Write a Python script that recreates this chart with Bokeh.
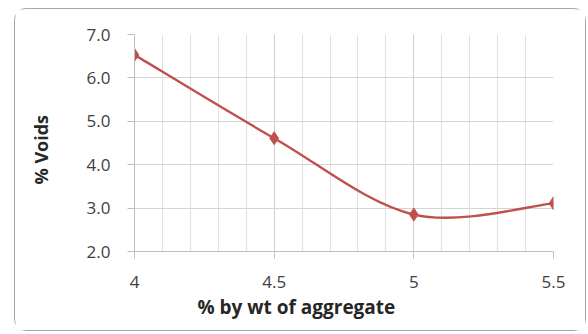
import numpy as np
from bokeh.plotting import figure
from bokeh.models import Range1d, SingleIntervalTicker, Title, NumeralTickFormatter
from bokeh.embed import file_html
from bokeh.resources import INLINE

# data
binder = [4.0, 4.5, 5.0, 5.5]
voids = [6.53, 4.61, 2.85, 3.11]
x_label = "% by wt of aggregate"
y_label = "% Voids"

RED = "#C0504D"

p = figure(width=572, height=323, output_backend="svg", toolbar_location=None,
           x_range=Range1d(4, 5.5), y_range=Range1d(2, 7),
           min_border_left=119, min_border_right=34, min_border_top=25, min_border_bottom=81,
           margin=(8, 0, 0, 14))
p.styles = {"border": "1px solid #a6a6a6", "border-radius": "12px"}
p.outline_line_color = None
p.background_fill_color = "white"
p.border_fill_color = "white"

# axes
p.xaxis.ticker = SingleIntervalTicker(interval=0.5, num_minor_ticks=5)
p.yaxis.ticker = SingleIntervalTicker(interval=1)
p.yaxis.formatter = NumeralTickFormatter(format="0.0")
for ax in (p.xaxis[0], p.yaxis[0]):
    ax.axis_line_color = "#bfbfbf"
    ax.major_tick_line_color = "#bfbfbf"
    ax.major_tick_out = 7
    ax.major_tick_in = 0
    ax.minor_tick_line_color = None
    ax.major_label_text_font = "Open Sans"
    ax.major_label_text_font_size = "17px"
    ax.major_label_text_color = "#404040"
p.xaxis.major_label_standoff = 17
p.yaxis.major_label_standoff = 17
# blank spacer label to push the y title outward
p.yaxis.axis_label = " "
p.yaxis.axis_label_text_font_size = "2px"
p.yaxis.axis_label_standoff = 14

p.xgrid.grid_line_color = "#cfcfcf"
p.xgrid.minor_grid_line_color = "#e0e0e0"
p.ygrid.grid_line_color = "#d4d4d4"

# smooth curve (Catmull-Rom style bezier segments from the data)
x = np.array(binder)
y = np.array(voids)
xp = np.concatenate([[x[0]], x, [x[-1]]])
yp = np.concatenate([[y[0]], y, [y[-1]]])
n = len(x)
x0, y0 = x[:-1], y[:-1]
x1, y1 = x[1:], y[1:]
cx0 = x0 + (xp[2:n + 1] - xp[0:n - 1]) / 6
cy0 = y0 + (yp[2:n + 1] - yp[0:n - 1]) / 6
cx1 = x1 - (xp[3:n + 2] - xp[1:n]) / 6
cy1 = y1 - (yp[3:n + 2] - yp[1:n]) / 6
p.bezier(x0=x0, y0=y0, x1=x1, y1=y1, cx0=cx0, cy0=cy0, cx1=cx1, cy1=cy1,
         line_color=RED, line_width=2.4)
p.scatter(x=binder, y=voids, marker="diamond", size=13, fill_color=RED, line_color=RED)

# axis titles
p.add_layout(Title(text=x_label, align="left", offset=63, standoff=2,
                   text_font="Open Sans", text_font_style="bold", text_font_size="19px",
                   text_color="#262626"), "below")
p.add_layout(Title(text=y_label, align="left", offset=67, standoff=19, vertical_align="top",
                   text_font="Open Sans", text_font_style="bold",
                   text_font_size="18px", text_color="#262626"), "left")

open("out.html", "w").write(file_html(p, INLINE))
